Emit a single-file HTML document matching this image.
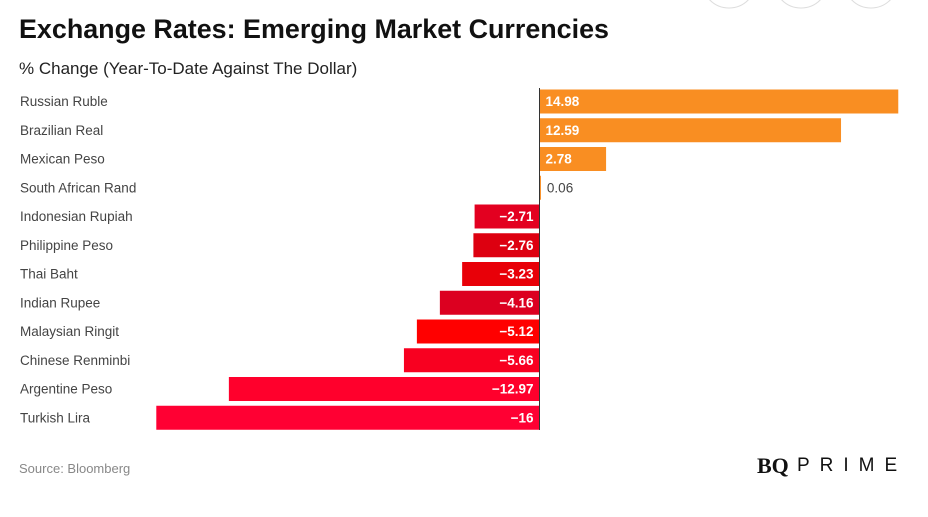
<!DOCTYPE html>
<html><head><meta charset="utf-8"><style>
body{margin:0;background:#fff;width:928px;height:512px;overflow:hidden;font-family:"Liberation Sans",sans-serif}
</style></head><body>
<svg width="928" height="512" xmlns="http://www.w3.org/2000/svg">
<circle cx="729" cy="-19" r="27" fill="none" stroke="#ddd"/>
<circle cx="801" cy="-19" r="27" fill="none" stroke="#ddd"/>
<circle cx="871" cy="-19" r="27" fill="none" stroke="#ddd"/>
<text x="19" y="38" font-size="27" font-weight="bold" fill="#111" textLength="590" lengthAdjust="spacingAndGlyphs">Exchange Rates: Emerging Market Currencies</text>
<text x="19" y="74" font-size="17" fill="#222">% Change (Year-To-Date Against The Dollar)</text>
<g id="bars"></g>
<line x1="539.5" y1="88" x2="539.5" y2="430" stroke="#333" stroke-width="1"/>
<text x="19" y="473" font-size="13" fill="#888">Source: Bloomberg</text>
<text x="757" y="473" font-size="22" font-weight="bold" font-family="Liberation Serif,serif" fill="#111">BQ</text>
<text x="797" y="471" font-size="19" fill="#111" letter-spacing="10">PRIME</text>
</svg>
<script>
const categories=["Russian Ruble","Brazilian Real","Mexican Peso","South African Rand","Indonesian Rupiah","Philippine Peso","Thai Baht","Indian Rupee","Malaysian Ringit","Chinese Renminbi","Argentine Peso","Turkish Lira"];
const values=[14.98,12.59,2.78,0.06,-2.71,-2.76,-3.23,-4.16,-5.12,-5.66,-12.97,-16];
const labels=["14.98","12.59","2.78","0.06","\u22122.71","\u22122.76","\u22123.23","\u22124.16","\u22125.12","\u22125.66","\u221212.97","\u221216"];
const colors=["#f98e22","#f98e22","#f98e22","#f98e22","#e30020","#dd0010","#e80008","#dc0020","#ff0000","#f80020","#ff002c","#ff0033"];
const x0=539.5, k=23.95, top0=89.5, step=28.75, bh=24;
const xs=v=>x0+v*k;
const g=document.getElementById('bars');
const NS="http://www.w3.org/2000/svg";
categories.forEach((c,i)=>{
  const y=top0+i*step, v=values[i];
  const t=document.createElementNS(NS,'text');
  
  
  t.setAttribute('x',20);t.setAttribute('y',y+16.5);t.setAttribute('font-size',13.5);t.setAttribute('fill','#444');
  t.textContent=c;g.appendChild(t);
  const r=document.createElementNS(NS,'rect');
  
  
  const a=Math.min(xs(0),xs(v)), w=Math.abs(xs(v)-xs(0));
  r.setAttribute('x',a);r.setAttribute('y',y);r.setAttribute('width',Math.max(w,1));r.setAttribute('height',bh);r.setAttribute('fill',colors[i]);
  g.appendChild(r);
  const l=document.createElementNS(NS,'text');
  
  
  l.setAttribute('font-size',13.5);l.setAttribute('y',y+16.5);
  if(w<40){l.setAttribute('x',xs(v)+6);l.setAttribute('fill','#444');}
  else if(v>=0){l.setAttribute('x',xs(0)+6);l.setAttribute('fill','#fff');l.setAttribute('font-weight','bold');}
  else {l.setAttribute('x',xs(0)-6);l.setAttribute('text-anchor','end');l.setAttribute('fill','#fff');l.setAttribute('font-weight','bold');}
  l.textContent=labels[i];g.appendChild(l);
});
</script>
</body></html>
